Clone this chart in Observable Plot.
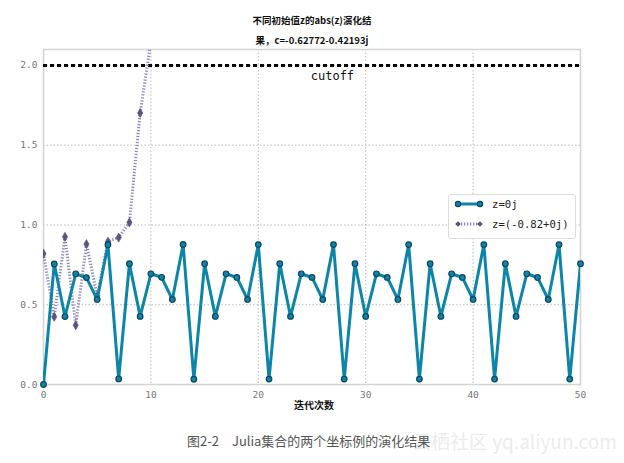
<!DOCTYPE html>
<html><head><meta charset="utf-8">
<script src="https://cdn.jsdelivr.net/npm/d3@7"></script>
<script src="https://cdn.jsdelivr.net/npm/@observablehq/plot@0.6"></script>
<style>
body{margin:0;background:#fff;}
#wrap{position:relative;width:624px;height:463px;overflow:hidden;font-family:"Noto Sans CJK SC","Noto Sans",sans-serif;}
.t{position:absolute;white-space:nowrap;}
#wrap svg text{font-family:'DejaVu Sans Mono',monospace;}
</style></head>
<body><div id="wrap"></div>
<script>
const titleLines = ["不同初始值z的abs(z)演化结", "果，c=-0.62772-0.42193j"];
const xLabel = "迭代次数";
const caption = "图2-2　Julia集合的两个坐标例的演化结果";
const watermark = "云栖社区 yq.aliyun.com";
const seriesNames = ["z=0j", "z=(-0.82+0j)"];
const cutoffValue = 2.0;
const cutoffLabel = "cutoff";
const xTicks = [0, 10, 20, 30, 40, 50];
const yTicks = [0.0, 0.5, 1.0, 1.5, 2.0];
const series1 = [0, 0.756, 0.426, 0.694, 0.670, 0.533, 0.876, 0.035,
  0.757, 0.427, 0.694, 0.672, 0.533, 0.878, 0.033,
  0.757, 0.427, 0.694, 0.671, 0.533, 0.877, 0.034,
  0.757, 0.427, 0.694, 0.671, 0.533, 0.877, 0.034,
  0.757, 0.427, 0.694, 0.671, 0.533, 0.877, 0.034,
  0.757, 0.427, 0.694, 0.671, 0.533, 0.877, 0.034,
  0.757, 0.427, 0.694, 0.671, 0.533, 0.877, 0.034,
  0.757];
const series2 = [0.820, 0.424, 0.926, 0.371, 0.880, 0.555, 0.896, 0.921, 1.016, 1.702, 2.151, 3.887];

const c1 = "#0d85a8", c1edge = "#0b4560";
const c2 = "#8f88c0", c2mark = "#5e5080";

const d1 = series1.map((v, i) => ({x: i, y: v}));
const d2 = series2.map((v, i) => ({x: i, y: v}));

const W = 624, H = 420;
const chart = Plot.plot({
  width: W, height: H,
  marginTop: 49, marginBottom: 36, marginLeft: 43, marginRight: 44,
  style: {fontFamily: "'DejaVu Sans Mono', monospace", fontSize: "9px", color: "#777", background: "#fff"},
  x: {domain: [0, 50], label: null},
  y: {domain: [0, 2.1], label: null},
  marks: [
    Plot.gridX(xTicks, {stroke: "#aaa", strokeOpacity: 1, strokeDasharray: "1.5,2", strokeWidth: 0.8}),
    Plot.gridY(yTicks, {stroke: "#aaa", strokeOpacity: 1, strokeDasharray: "1.5,2", strokeWidth: 0.8}),
    Plot.frame({stroke: "#d4d4d4", strokeWidth: 1.5}),
    Plot.axisX(xTicks, {tickSize: 0, tickPadding: 7, fill: "#777", fontSize: 9.5, tickFormat: d3.format("d")}),
    Plot.axisY(yTicks, {tickSize: 0, tickPadding: 6, fill: "#777", fontSize: 9.5, tickFormat: d3.format(".1f")}),
    Plot.ruleY([cutoffValue], {stroke: "#000", strokeWidth: 3, strokeDasharray: "4,3"}),
    Plot.text([cutoffLabel], {x: 26.9, y: cutoffValue, text: d => d, dy: 11, fill: "#111", fontSize: 12, fontFamily: "'DejaVu Sans', sans-serif"}),
    Plot.line(d2, {x: "x", y: "y", stroke: c2, strokeWidth: 3, strokeDasharray: "1.3,1.7", strokeLinecap: "butt", clip: true}),
    Plot.dot(d2, {x: "x", y: "y", symbol: "diamond", r: 2.8, fill: c2mark, stroke: c2mark, strokeWidth: 0.5, clip: true}),
    Plot.line(d1, {x: "x", y: "y", stroke: c1, strokeWidth: 3, clip: true}),
    Plot.dot(d1, {x: "x", y: "y", r: 2.8, fill: c1, stroke: c1edge, strokeWidth: 1.2})
  ]
});
chart.style.position = "absolute";
chart.style.left = "0px";
chart.style.top = "0px";
const wrap = document.getElementById("wrap");
wrap.appendChild(chart);

function addText(txt, css) {
  const d = document.createElement("div");
  d.className = "t";
  d.textContent = txt;
  Object.assign(d.style, css);
  wrap.appendChild(d);
  return d;
}
addText(titleLines[0], {left: "0px", width: "624px", textAlign: "center", top: "13px", fontSize: "9.5px", fontWeight: "bold", color: "#111"});
addText(titleLines[1], {left: "0px", width: "624px", textAlign: "center", top: "33px", fontSize: "9.5px", fontWeight: "bold", color: "#111"});
addText(xLabel, {left: "0px", width: "624px", textAlign: "center", top: "397px", fontSize: "10px", fontWeight: "bold", color: "#111", paddingLeft: "2px"});
addText(watermark, {left: "412px", top: "427px", fontSize: "19px", color: "#ececec", fontFamily: "\"Noto Sans CJK SC\",sans-serif"});
addText(caption, {left: "187px", top: "431px", fontSize: "13px", color: "#555"});

// legend
const leg = document.createElement("div");
Object.assign(leg.style, {position: "absolute", left: "448px", top: "194px", width: "128px", height: "45px", background: "#fff", border: "1px solid #ddd", borderRadius: "3px", boxSizing: "border-box"});
wrap.appendChild(leg);
const ns = "http://www.w3.org/2000/svg";
const lsvg = document.createElementNS(ns, "svg");
lsvg.setAttribute("width", 126); lsvg.setAttribute("height", 43);
lsvg.innerHTML = `
<line x1="9" y1="9" x2="31" y2="9" stroke="${c1}" stroke-width="3"/>
<circle cx="9" cy="9" r="2.6" fill="${c1}" stroke="${c1edge}" stroke-width="1.2"/>
<circle cx="31" cy="9" r="2.6" fill="${c1}" stroke="${c1edge}" stroke-width="1.2"/>
<line x1="9" y1="29" x2="31" y2="29" stroke="${c2}" stroke-width="3" stroke-dasharray="1.3,1.7"/>
<path d="M9,26.2L11.8,29L9,31.8L6.2,29Z" fill="${c2mark}"/>
<path d="M31,26.2L33.8,29L31,31.8L28.2,29Z" fill="${c2mark}"/>
<text x="43" y="13" font-size="10.6" fill="#222">${seriesNames[0]}</text>
<text x="43" y="33" font-size="10.6" fill="#222">${seriesNames[1]}</text>`;
leg.appendChild(lsvg);
</script></body></html>
